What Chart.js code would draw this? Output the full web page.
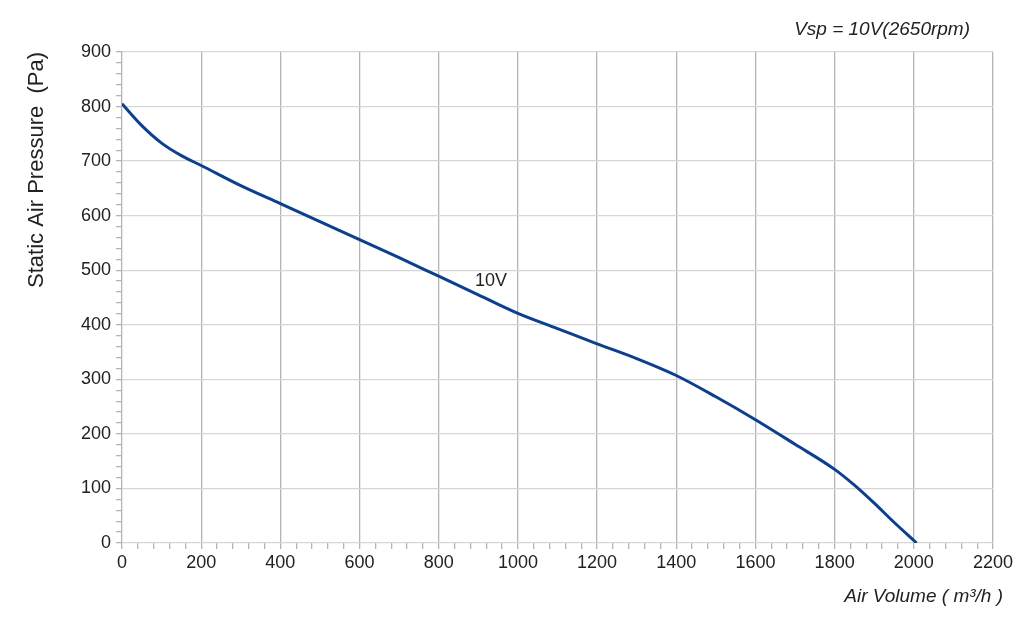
<!DOCTYPE html>
<html>
<head>
<meta charset="utf-8">
<script src="https://cdn.jsdelivr.net/npm/chart.js@4/dist/chart.umd.min.js"></script>
<style>
  html, body { margin: 0; padding: 0; background: #fff; }
  #wrap { width: 1024px; height: 629px; position: relative; }
</style>
</head>
<body>
<div id="wrap"><canvas id="fanChart"></canvas></div>
<script>
// air volume (m3/h) vs static pressure (Pa)
const airVolume = [0, 50, 100, 150, 200, 300, 400, 500, 600, 700, 800, 900, 1000, 1100, 1200, 1300, 1400, 1500, 1600, 1700, 1800, 1850, 1900, 1950, 2007];
const pressure  = [805, 765, 733, 710, 692, 655, 622, 589, 556, 523, 489, 455, 421, 393, 365, 338, 307, 268, 226, 181, 135, 106, 73, 38, 0];
const curveLabel = '10V';
const labelAt = { x: 932, y: 481 };
const speedNote = 'Vsp = 10V(2650rpm)';
const xTitle = 'Air Volume ( m³/h )';
const yTitle = 'Static Air Pressure  (Pa)';

const FONT = '"Liberation Sans", Arial, sans-serif';

const textPlugin = {
    id: 'extraText',
    afterDatasetsDraw(chart) {
        const c = chart.ctx;
        const xs = chart.scales.x, ys = chart.scales.y;
        c.save();
        c.fillStyle = '#222';
        // curve label
        c.font = '18px ' + FONT;
        c.textAlign = 'center';
        c.textBaseline = 'middle';
        c.fillText(curveLabel, xs.getPixelForValue(labelAt.x), ys.getPixelForValue(labelAt.y));
        // speed note top right
        c.font = 'italic 19px ' + FONT;
        c.textAlign = 'right';
        c.fillText(speedNote, 970, 30);
        // x axis title
        c.fillText(xTitle, 1003, 597);
        // y axis title, sits high like the original
        c.font = '22px ' + FONT;
        c.translate(37, 170);
        c.rotate(-Math.PI / 2);
        c.textAlign = 'center';
        c.fillText(yTitle, 0, 0);
        c.restore();
    }
};

const points = airVolume.map((v, i) => ({ x: v, y: pressure[i] }));

new Chart(document.getElementById('fanChart'), {
    type: 'scatter',
    data: {
        datasets: [{
            label: curveLabel,
            data: points,
            showLine: true,
            borderColor: '#0c3f8e',
            borderWidth: 3,
            pointRadius: 0,
            cubicInterpolationMode: 'monotone'
        }]
    },
    options: {
        responsive: true,
        maintainAspectRatio: false,
        animation: false,
        layout: { padding: { top: 52, right: 31, left: 0, bottom: 0 } },
        plugins: { legend: { display: false }, tooltip: { enabled: false } },
        scales: {
            x: {
                type: 'linear',
                min: 0, max: 2200,
                afterFit: s => { s.height = 86; },
                border: { display: false },
                grid: {
                    color: c => Math.round(c.tick.value) % 200 === 0 ? '#b4b4b4' : 'transparent',
                    tickColor: '#b4b4b4',
                    tickLength: 6,
                    lineWidth: 1.3
                },
                ticks: {
                    stepSize: 40,
                    autoSkip: false,
                    maxRotation: 0,
                    padding: 3,
                    color: '#222',
                    font: { family: FONT, size: 18 },
                    callback: v => Math.round(v) % 200 === 0 ? Math.round(v) : ''
                }
            },
            y: {
                min: 0, max: 900,
                afterFit: s => { s.width = 122; },
                border: { display: false },
                grid: {
                    color: c => Math.round(c.tick.value) % 100 === 0 ? '#d6d6d6' : 'transparent',
                    tickColor: '#b4b4b4',
                    tickLength: 6,
                    lineWidth: 1.3
                },
                ticks: {
                    stepSize: 20,
                    autoSkip: false,
                    padding: 5,
                    color: '#222',
                    font: { family: FONT, size: 18 },
                    callback: v => Math.round(v) % 100 === 0 ? Math.round(v) : ''
                }
            }
        }
    },
    plugins: [textPlugin]
});
</script>
</body>
</html>
